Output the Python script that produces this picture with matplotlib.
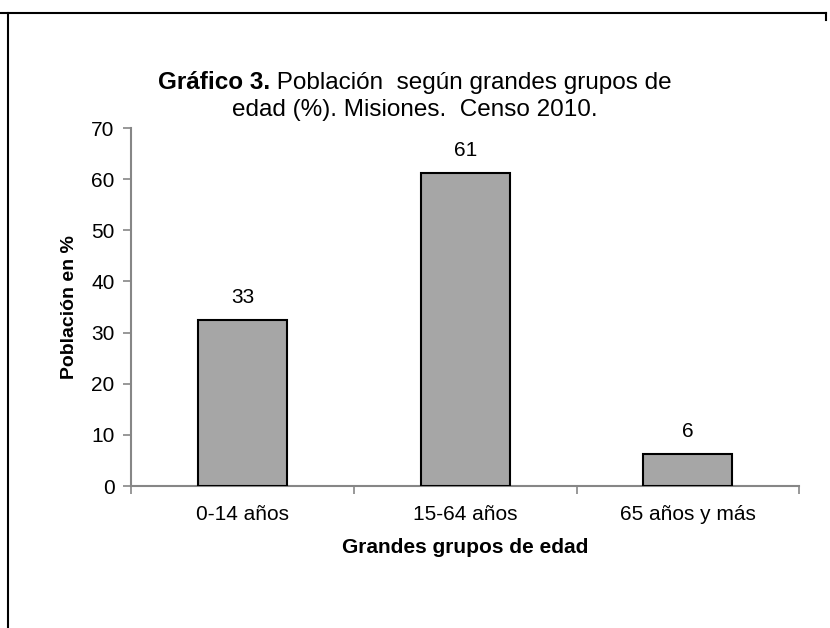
import matplotlib
matplotlib.use('Agg')
import matplotlib.pyplot as plt
from matplotlib.lines import Line2D

plt.rcParams['font.family'] = ['Liberation Sans', 'DejaVu Sans']

categories = ['0-14 años', '15-64 años', '65 años y más']
values = [32.5, 61.2, 6.3]
value_labels = ['33', '61', '6']
y_ticks = [0, 10, 20, 30, 40, 50, 60, 70]

axis_gray = '#868686'

fig = plt.figure(figsize=(8.3, 6.28), dpi=100)
ax = fig.add_axes([0.158, 0.2261, 0.805, 0.570])

x = list(range(len(categories)))
ax.bar(x, values, width=0.4, color='#a6a6a6', edgecolor='black', linewidth=1.5, zorder=3)
for xi, v, lab in zip(x, values, value_labels):
    ax.text(xi, v + 3.3, lab, ha='center', va='baseline', fontsize=15)

ax.set_xlim(-0.5, len(categories) - 0.5)
ax.set_ylim(0, 70)
ax.set_yticks(y_ticks)
ax.set_xticks(x)
ax.set_xticklabels(categories, fontsize=15)
ax.set_xticks([i - 0.5 for i in range(len(categories) + 1)], minor=True)
ax.tick_params(axis='x', which='major', length=0, pad=14)
ax.tick_params(axis='x', which='minor', length=6, color=axis_gray, width=1.2, direction='out')
ax.tick_params(axis='y', length=6, color=axis_gray, width=1.2, labelsize=15, pad=6)

for side in ['top', 'right']:
    ax.spines[side].set_visible(False)
for side in ['left', 'bottom']:
    ax.spines[side].set_color(axis_gray)
    ax.spines[side].set_linewidth(1.5)

ax.set_ylabel('Población en %', fontsize=14, fontweight='bold', va='center')
ax.yaxis.set_label_coords(-0.093, 0.5)
ax.set_xlabel('Grandes grupos de edad', fontsize=15, fontweight='bold', labelpad=10)

# title with mixed weights on the first line
renderer = fig.canvas.get_renderer()
bold_part = fig.text(0, 0, 'Gráfico 3.', fontsize=17.5, fontweight='bold')
rest_part = fig.text(0, 0, ' Población  según grandes grupos de', fontsize=17.5)
w1 = bold_part.get_window_extent(renderer).width
w2 = rest_part.get_window_extent(renderer).width
cx = 415
y1 = 628 - 89
x0 = cx - (w1 + w2) / 2
bold_part.set_position((x0 / 830, y1 / 628))
rest_part.set_position(((x0 + w1) / 830, y1 / 628))
bold_part.set_va('baseline')
rest_part.set_va('baseline')
fig.text(cx / 830, (628 - 116) / 628, 'edad (%). Misiones.  Censo 2010.', fontsize=17.5,
         ha='center', va='baseline')

# frame around the chart area
fig.add_artist(Line2D([8 / 830, 8 / 830], [0, 1 - 13 / 628], transform=fig.transFigure, color='black', linewidth=1.5))
fig.add_artist(Line2D([0, 826 / 830], [1 - 13 / 628, 1 - 13 / 628], transform=fig.transFigure, color='black', linewidth=1.5))
fig.add_artist(Line2D([826 / 830, 826 / 830], [1 - 13 / 628, 1 - 20 / 628], transform=fig.transFigure, color='black', linewidth=1.5))

fig.savefig('out.png', dpi=100)
